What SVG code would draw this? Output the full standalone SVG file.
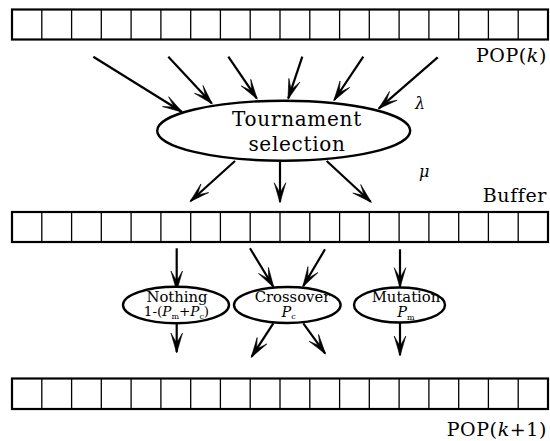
<svg xmlns="http://www.w3.org/2000/svg" width="550" height="441" viewBox="0 0 550 441">
<defs>
<marker id="ah" markerUnits="userSpaceOnUse" markerWidth="24" markerHeight="16" refX="0" refY="0" viewBox="-21 -8 23 16" orient="auto" overflow="visible">
<path d="M1,0 L-19,-5.8 L-11,-1.2 L-11,1.2 L-19,5.8 Z" fill="#000" stroke="#000" stroke-width="0.6" stroke-linejoin="miter"/>
</marker>
</defs>
<style>
.outer{fill:#fff;stroke:#000;stroke-width:2.2}
.cells{fill:none;stroke:#000;stroke-width:1.3}
.ell{fill:#fff;stroke:#000;stroke-width:2.4}
.conn line{stroke:#000;stroke-width:2.2;marker-end:url(#ah)}
.t{font-family:"DejaVu Serif","Liberation Serif",serif;fill:#000}
.lbl{font-size:19px;letter-spacing:0.6px}
.big{font-size:20px;letter-spacing:0.7px}
.sm{font-size:14.8px}
.it{font-style:italic}
</style>
<rect width="550" height="441" fill="#fff"/>

<g id="pop_k">
<rect class="outer" x="12" y="9.5" width="536" height="30"/>
<path class="cells" d="M41.8,9.5V39.5M71.6,9.5V39.5M101.3,9.5V39.5M131.1,9.5V39.5M160.9,9.5V39.5M190.7,9.5V39.5M220.4,9.5V39.5M250.2,9.5V39.5M280,9.5V39.5M309.8,9.5V39.5M339.6,9.5V39.5M369.3,9.5V39.5M399.1,9.5V39.5M428.9,9.5V39.5M458.7,9.5V39.5M488.4,9.5V39.5M518.2,9.5V39.5"/>
<text class="t lbl" x="547" y="62" text-anchor="end">POP(<tspan class="it">k</tspan>)</text>
</g>

<g id="buffer">
<rect class="outer" x="12" y="212" width="536" height="30"/>
<path class="cells" d="M41.8,212V242M71.6,212V242M101.3,212V242M131.1,212V242M160.9,212V242M190.7,212V242M220.4,212V242M250.2,212V242M280,212V242M309.8,212V242M339.6,212V242M369.3,212V242M399.1,212V242M428.9,212V242M458.7,212V242M488.4,212V242M518.2,212V242"/>
<text class="t lbl" x="547" y="201.5" text-anchor="end">Buffer</text>
</g>

<g id="pop_k1">
<rect class="outer" x="12" y="378.5" width="536" height="30.5"/>
<path class="cells" d="M41.8,378.5V409M71.6,378.5V409M101.3,378.5V409M131.1,378.5V409M160.9,378.5V409M190.7,378.5V409M220.4,378.5V409M250.2,378.5V409M280,378.5V409M309.8,378.5V409M339.6,378.5V409M369.3,378.5V409M399.1,378.5V409M428.9,378.5V409M458.7,378.5V409M488.4,378.5V409M518.2,378.5V409"/>
<text class="t lbl" x="547" y="436" text-anchor="end">POP(<tspan class="it">k</tspan>+1)</text>
</g>

<g class="conn" id="connectors">
<line x1="93.3" y1="56.7" x2="181.7" y2="111.7"/>
<line x1="168.3" y1="56.7" x2="211.7" y2="103.3"/>
<line x1="228.3" y1="56.7" x2="256.7" y2="98.3"/>
<line x1="302.3" y1="56.7" x2="288.3" y2="98.3"/>
<line x1="363.3" y1="56.7" x2="334.3" y2="100"/>
<line x1="437.7" y1="57.3" x2="379" y2="108.3"/>
<line x1="235" y1="161" x2="190.7" y2="201"/>
<line x1="280" y1="161.7" x2="280" y2="201.7"/>
<line x1="326.7" y1="161" x2="370.7" y2="201.7"/>
<line x1="176.7" y1="248.3" x2="176.7" y2="290"/>
<line x1="176.7" y1="323.3" x2="176.7" y2="352"/>
<line x1="250" y1="248.3" x2="273.3" y2="286.7"/>
<line x1="325" y1="249.3" x2="303.3" y2="286"/>
<line x1="273.3" y1="323.3" x2="251.7" y2="356.7"/>
<line x1="303.3" y1="323.3" x2="325" y2="353.3"/>
<line x1="400" y1="249.3" x2="400" y2="286.7"/>
<line x1="400" y1="322.7" x2="400" y2="355"/>
</g>

<g id="tournament">
<ellipse class="ell" cx="283.7" cy="130.7" rx="126.5" ry="30"/>
<text class="t big" x="297" y="126" text-anchor="middle">Tournament</text>
<text class="t big" x="297" y="150.5" text-anchor="middle">selection</text>
</g>

<g id="lambda"><text class="t it" x="415" y="109" font-size="16">λ</text></g>
<g id="mu"><text class="t it" x="419" y="176.5" font-size="16">μ</text></g>

<g id="nothing">
<ellipse class="ell" cx="176" cy="305" rx="53" ry="18.3"/>
<text class="t sm" x="177" y="301.5" text-anchor="middle">Nothing</text>
<text class="t" x="176.5" y="316" font-size="13.5" text-anchor="middle">1-(<tspan class="it">P</tspan><tspan font-size="8" dy="2.5">m</tspan><tspan dy="-2.5">+</tspan><tspan class="it">P</tspan><tspan font-size="8" dy="2.5">c</tspan><tspan dy="-2.5">)</tspan></text>
</g>

<g id="crossover">
<ellipse class="ell" cx="287.3" cy="305" rx="53.3" ry="18"/>
<text class="t sm" x="292.5" y="301.5" text-anchor="middle">Crossover</text>
<text class="t" x="288.5" y="316.5" font-size="14.5" text-anchor="middle"><tspan class="it">P</tspan><tspan font-size="8" dy="2.5">c</tspan></text>
</g>

<g id="mutation">
<ellipse class="ell" cx="399.5" cy="305" rx="45.5" ry="17.5"/>
<text class="t sm" x="406" y="302" text-anchor="middle">Mutation</text>
<text class="t" x="406" y="317" font-size="14.5" text-anchor="middle"><tspan class="it">P</tspan><tspan font-size="8" dy="2.5">m</tspan></text>
</g>
</svg>
